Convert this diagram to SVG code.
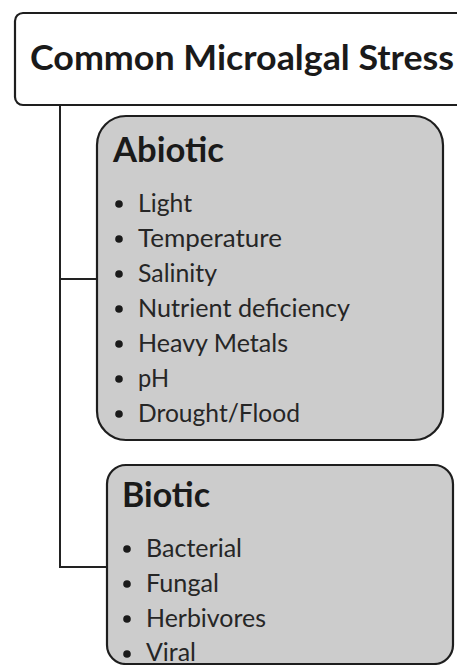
<svg xmlns="http://www.w3.org/2000/svg" width="457" height="665" viewBox="0 0 457 665">
  <style>
    .box { stroke: #1e1e1e; stroke-width: 2.2; }
    .conn { fill: none; stroke: #222; stroke-width: 2; }
    .head { font-family: Lato, "Open Sans", "Liberation Sans", sans-serif; font-weight: bold; font-size: 35px; fill: #1a1a1a; }
    .item { font-family: Lato, "Open Sans", "Liberation Sans", sans-serif; font-size: 25px; fill: #262626; }
    .dot { fill: #1a1a1a; }
  </style>
  <rect width="457" height="665" fill="#ffffff"/>
  <g id="connectors">
    <path class="conn" d="M60,106 V567 H107"/>
    <path class="conn" d="M60,279 H97"/>
  </g>
  <g id="root">
    <rect class="box" x="15" y="13" width="470" height="92" rx="8" fill="#ffffff"/>
    <text class="head" x="30" y="70" textLength="424" lengthAdjust="spacingAndGlyphs">Common Microalgal Stress</text>
  </g>
  <g id="abiotic">
    <rect class="box" x="97" y="116" width="346" height="324" rx="29" fill="#cccccc"/>
    <text class="head" x="113" y="162" textLength="111" lengthAdjust="spacingAndGlyphs">Abiotic</text>
    <circle class="dot" cx="119" cy="204" r="3.8"/>
    <text class="item" x="138" y="212" textLength="54" lengthAdjust="spacingAndGlyphs">Light</text>
    <circle class="dot" cx="119" cy="239" r="3.8"/>
    <text class="item" x="138" y="247" textLength="144" lengthAdjust="spacingAndGlyphs">Temperature</text>
    <circle class="dot" cx="119" cy="274" r="3.8"/>
    <text class="item" x="138" y="282" textLength="79" lengthAdjust="spacingAndGlyphs">Salinity</text>
    <circle class="dot" cx="119" cy="309" r="3.8"/>
    <text class="item" x="138" y="317" textLength="212" lengthAdjust="spacingAndGlyphs">Nutrient deficiency</text>
    <circle class="dot" cx="119" cy="344" r="3.8"/>
    <text class="item" x="138" y="352" textLength="150" lengthAdjust="spacingAndGlyphs">Heavy Metals</text>
    <circle class="dot" cx="119" cy="379" r="3.8"/>
    <text class="item" x="138" y="387" textLength="31" lengthAdjust="spacingAndGlyphs">pH</text>
    <circle class="dot" cx="119" cy="414" r="3.8"/>
    <text class="item" x="138" y="422" textLength="162" lengthAdjust="spacingAndGlyphs">Drought/Flood</text>
  </g>
  <g id="biotic">
    <rect class="box" x="107" y="465" width="346" height="199" rx="19" fill="#cccccc"/>
    <text class="head" x="122" y="507" textLength="88" lengthAdjust="spacingAndGlyphs">Biotic</text>
    <circle class="dot" cx="127" cy="549" r="3.8"/>
    <text class="item" x="146" y="557" textLength="96" lengthAdjust="spacingAndGlyphs">Bacterial</text>
    <circle class="dot" cx="127" cy="584" r="3.8"/>
    <text class="item" x="146" y="592" textLength="73" lengthAdjust="spacingAndGlyphs">Fungal</text>
    <circle class="dot" cx="127" cy="619" r="3.8"/>
    <text class="item" x="146" y="627" textLength="120" lengthAdjust="spacingAndGlyphs">Herbivores</text>
    <circle class="dot" cx="127" cy="654" r="3.8"/>
    <text class="item" x="146" y="661" textLength="50" lengthAdjust="spacingAndGlyphs">Viral</text>
  </g>
</svg>
